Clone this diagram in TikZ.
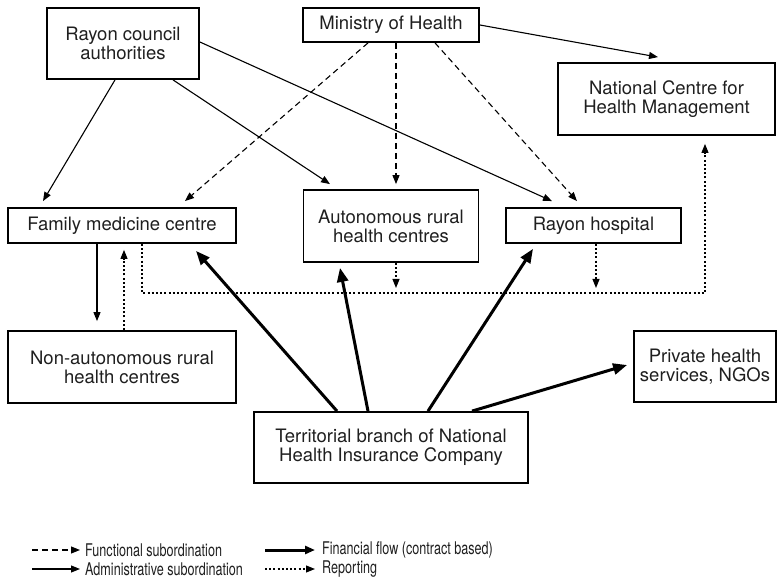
\documentclass[tikz,border=0pt]{standalone}
\usepackage{fontspec}
\usepackage{graphicx}
\setmainfont{TeX Gyre Heros}
\newcommand\legtxt[1]{\scalebox{0.72}[1]{\fontsize{17.5}{18}\selectfont #1}}
\usetikzlibrary{arrows.meta,calc}
\tikzset{
  box/.style={draw=black, line width=1.8pt, align=center, inner sep=0pt,
    text=black!88, font=\fontsize{18.5}{19}\selectfont},
  thintip/.style={-{Triangle[length=9pt,width=7pt]}},
  admin/.style={thintip, line width=1.1pt},
  func/.style={thintip, line width=1.1pt, dash pattern=on 6pt off 4pt},
  report/.style={thintip, line width=1.1pt, dash pattern=on 2pt off 2.2pt},
  finance/.style={-{Triangle[length=14pt,width=11pt]}, line width=3pt},
  leg/.style={anchor=west, inner sep=0pt, text=black!88},
}
\begin{document}
\begin{tikzpicture}[x=1pt,y=-1pt]
\useasboundingbox (0,0) rectangle (777,585);
% nodes
\node[box, minimum width=152pt, minimum height=71pt] (rca) at (123,43.5) {Rayon council\\authorities};
\node[box, minimum width=176pt, minimum height=34pt] (moh) at (391,25) {Ministry of Health};
\node[box, minimum width=217pt, minimum height=72pt] (nchm) at (666.5,99) {National Centre for\\Health Management};
\node[box, minimum width=228pt, minimum height=35pt] (fmc) at (122,225.5) {Family medicine centre};
\node[box, minimum width=175pt, minimum height=72pt] (arhc) at (391,226) {Autonomous rural\\health centres};
\node[box, minimum width=175pt, minimum height=35pt] (rh) at (593.5,225.5) {Rayon hospital};
\node[box, minimum width=228pt, minimum height=72pt] (nrhc) at (122,367) {Non-autonomous rural\\health centres};
\node[box, minimum width=142pt, minimum height=71pt] (phs) at (705,366.5) {Private health\\services, NGOs};
\node[box, minimum width=274pt, minimum height=71pt] (tb) at (391,447.5) {Territorial branch of National\\Health Insurance Company};
% administrative
\draw[admin] ([xshift=-8pt]rca.south) -- ([xshift=-79pt,yshift=6pt]fmc.north);
\draw[admin] ([xshift=50pt]rca.south) -- ([xshift=-61pt,yshift=5pt]arhc.north);
\draw[admin] ([yshift=1.5pt]rca.east) -- ([xshift=-41.5pt,yshift=6pt]rh.north);
\draw[admin] (moh.east) -- ([xshift=-8.5pt,yshift=5pt]nchm.north);
\draw[admin] ([xshift=-25pt]fmc.south) -- ([xshift=-25pt,yshift=9pt]nrhc.north);
% functional
\draw[func] ([xshift=-23pt]moh.south) -- ([xshift=63pt,yshift=6pt]fmc.north);
\draw[func] ([xshift=5pt]moh.south) -- ([xshift=5pt,yshift=5pt]arhc.north);
\draw[func] ([xshift=44pt]moh.south) -- ([xshift=-16.5pt,yshift=6pt]rh.north);
% reporting
\coordinate (rep) at (705,293);
\draw[report] ([xshift=2pt]nrhc.north) -- ([xshift=2pt,yshift=-6pt]fmc.south);
\draw[report, shorten >=8pt] ([xshift=20pt]fmc.south) |- (rep) -- (rep |- nchm.south);
\draw[report, shorten >=5pt] ([xshift=5pt]arhc.south) -- ([xshift=5pt]arhc.south |- rep);
\draw[report, shorten >=5pt] ([xshift=2.5pt]rh.south) -- ([xshift=2.5pt]rh.south |- rep);
% financial
\draw[finance] ([xshift=-54pt]tb.north) -- ([xshift=74pt,yshift=-7pt]fmc.south);
\draw[finance] ([xshift=-23pt]tb.north) -- ([xshift=-51pt,yshift=-5pt]arhc.south);
\draw[finance] ([xshift=37pt]tb.north) -- ([xshift=-60.5pt,yshift=-5pt]rh.south);
\draw[finance] ([xshift=81pt]tb.north) -- ([xshift=-6pt,yshift=1.5pt]phs.west);
% legend
\node[leg] (l1) at (85,550) {\legtxt{Functional subordination}};
\node[leg] (l2) at (85,569) {\legtxt{Administrative subordination}};
\node[leg] (l3) at (322,550) {\legtxt{Financial flow (contract based)}};
\node[leg] (l4) at (322,569) {\legtxt{Reporting}};
\coordinate (s1) at (32,550);
\coordinate (s2) at (32,569);
\coordinate (s3) at (265,550);
\coordinate (s4) at (265,569);
\draw[func, shorten >=5pt] (s1) -- (l1.west);
\draw[admin, shorten >=5pt] (s2) -- (l2.west);
\draw[finance, -{Triangle[length=10pt,width=8pt]}, shorten >=7pt] (s3) -- (l3.west);
\draw[report, shorten >=7pt] (s4) -- (l4.west);
\end{tikzpicture}
\end{document}
